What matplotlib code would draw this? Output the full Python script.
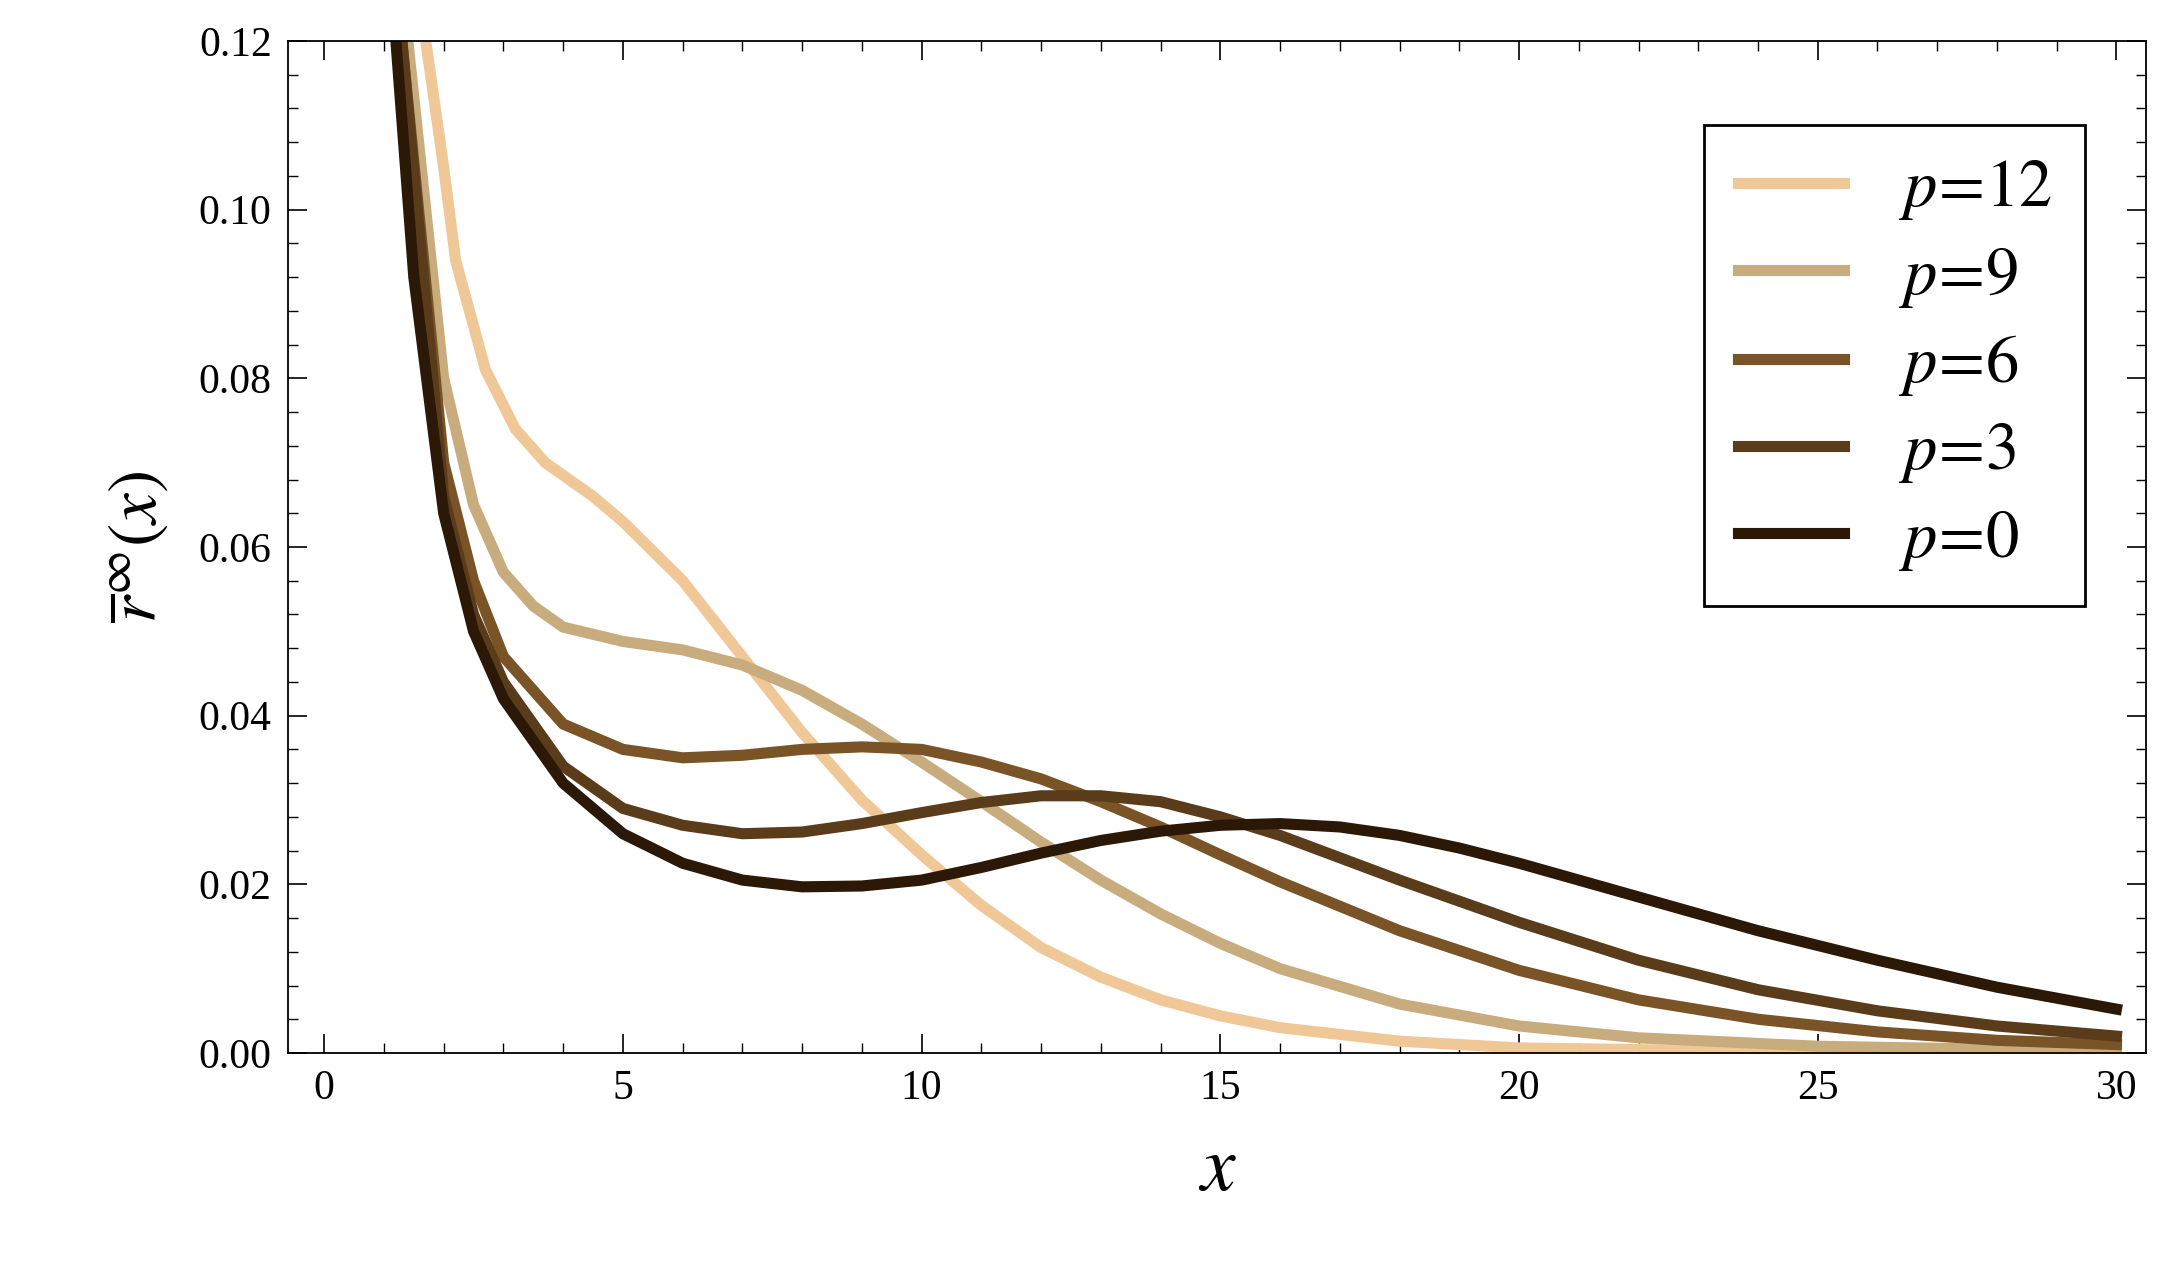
import matplotlib.pyplot as plt
from matplotlib.ticker import MultipleLocator

plt.rcParams['font.family'] = ['Liberation Serif', 'DejaVu Serif']
plt.rcParams['mathtext.fontset'] = 'stix'

# -------- DATA --------
x_p0 = [1.2, 1.5, 2, 2.5, 3, 4, 5, 6, 7, 8, 9, 10, 11, 12, 13, 14, 15, 16, 17, 18, 19, 20, 22, 24, 26, 28, 30]
y_p0 = [0.12, 0.092, 0.064, 0.05, 0.042, 0.032, 0.026, 0.0225, 0.0205, 0.0197, 0.0198, 0.0205, 0.022, 0.0237,
        0.0252, 0.0263, 0.027, 0.0272, 0.0268, 0.0258, 0.0243, 0.0225, 0.0185, 0.0145, 0.011, 0.0078, 0.0052]

x_p3 = [1.3, 2, 2.5, 3, 4, 5, 6, 7, 8, 9, 10, 11, 12, 13, 14, 15, 16, 18, 20, 22, 24, 26, 28, 30]
y_p3 = [0.12, 0.066, 0.052, 0.044, 0.034, 0.029, 0.027, 0.026, 0.0262, 0.0272, 0.0285, 0.0297, 0.0305, 0.0305,
        0.0298, 0.028, 0.0258, 0.0205, 0.0155, 0.011, 0.0075, 0.005, 0.0032, 0.002]

x_p6 = [1.3, 2, 2.5, 3, 4, 5, 6, 7, 8, 9, 10, 11, 12, 13, 14, 15, 16, 18, 20, 22, 24, 26, 28, 30]
y_p6 = [0.12, 0.07, 0.056, 0.047, 0.039, 0.036, 0.035, 0.0353, 0.036, 0.0363, 0.036, 0.0345, 0.0325, 0.0298,
        0.0268, 0.0235, 0.0203, 0.0145, 0.0098, 0.0063, 0.004, 0.0025, 0.0015, 0.001]

x_p9 = [1.4, 2, 2.5, 3, 3.5, 4, 5, 6, 7, 8, 9, 10, 11, 12, 13, 14, 15, 16, 18, 20, 22, 25, 30]
y_p9 = [0.12, 0.08, 0.065, 0.057, 0.053, 0.0505, 0.0488, 0.0478, 0.046, 0.043, 0.039, 0.0345, 0.0298, 0.025,
        0.0205, 0.0165, 0.013, 0.01, 0.0058, 0.0032, 0.0018, 0.0008, 0.0002]

x_p12 = [1.7, 2, 2.2, 2.7, 3.2, 3.7, 4.5, 5, 6, 7, 8, 9, 10, 11, 12, 13, 14, 15, 16, 18, 20, 25, 30]
y_p12 = [0.12, 0.105, 0.094, 0.081, 0.074, 0.07, 0.066, 0.063, 0.056, 0.047, 0.038, 0.03, 0.0235, 0.0175,
         0.0125, 0.009, 0.0063, 0.0044, 0.003, 0.0014, 0.0006, 0.0001, 0.0]

# -------- PLOT --------
fig = plt.figure(figsize=(21.68, 12.81), dpi=100)
ax = fig.add_axes([0.133, 0.178, 0.857, 0.79])

ax.plot(x_p12, y_p12, color='#f0c898', lw=8, label='$p\\!=\\!12$')
ax.plot(x_p9, y_p9, color='#c8ac7e', lw=8, label='$p\\!=\\!9$')
ax.plot(x_p6, y_p6, color='#7a5426', lw=8, label='$p\\!=\\!6$')
ax.plot(x_p3, y_p3, color='#5a3b1a', lw=8, label='$p\\!=\\!3$')
ax.plot(x_p0, y_p0, color='#2c1806', lw=8, label='$p\\!=\\!0$')

ax.set_xlim(-0.6, 30.5)
ax.set_ylim(0, 0.12)
ax.xaxis.set_major_locator(MultipleLocator(5))
ax.xaxis.set_minor_locator(MultipleLocator(1))
ax.yaxis.set_major_locator(MultipleLocator(0.02))
ax.yaxis.set_minor_locator(MultipleLocator(0.004))
ax.yaxis.set_major_formatter(plt.FuncFormatter(lambda v, _: f"{v:.2f}"))
ax.tick_params(which='both', direction='in', top=True, right=True, labelsize=30, pad=12)
ax.tick_params(which='major', length=14, width=1.2)
ax.tick_params(which='minor', length=7, width=1)
for s in ax.spines.values():
    s.set_linewidth(1.3)

ax.set_xlabel('$x$', fontsize=56, labelpad=20)
ax.set_ylabel('$\\overline{r}^{\\infty}(x)$', fontsize=50, labelpad=20)

leg = ax.legend(loc='upper right', bbox_to_anchor=(0.985, 0.95), fontsize=48, handlelength=1.6,
                fancybox=False, edgecolor='black', framealpha=1, labelspacing=0.35, borderpad=0.5)
leg.get_frame().set_linewidth(2)

fig.savefig('out.png', dpi=100)
